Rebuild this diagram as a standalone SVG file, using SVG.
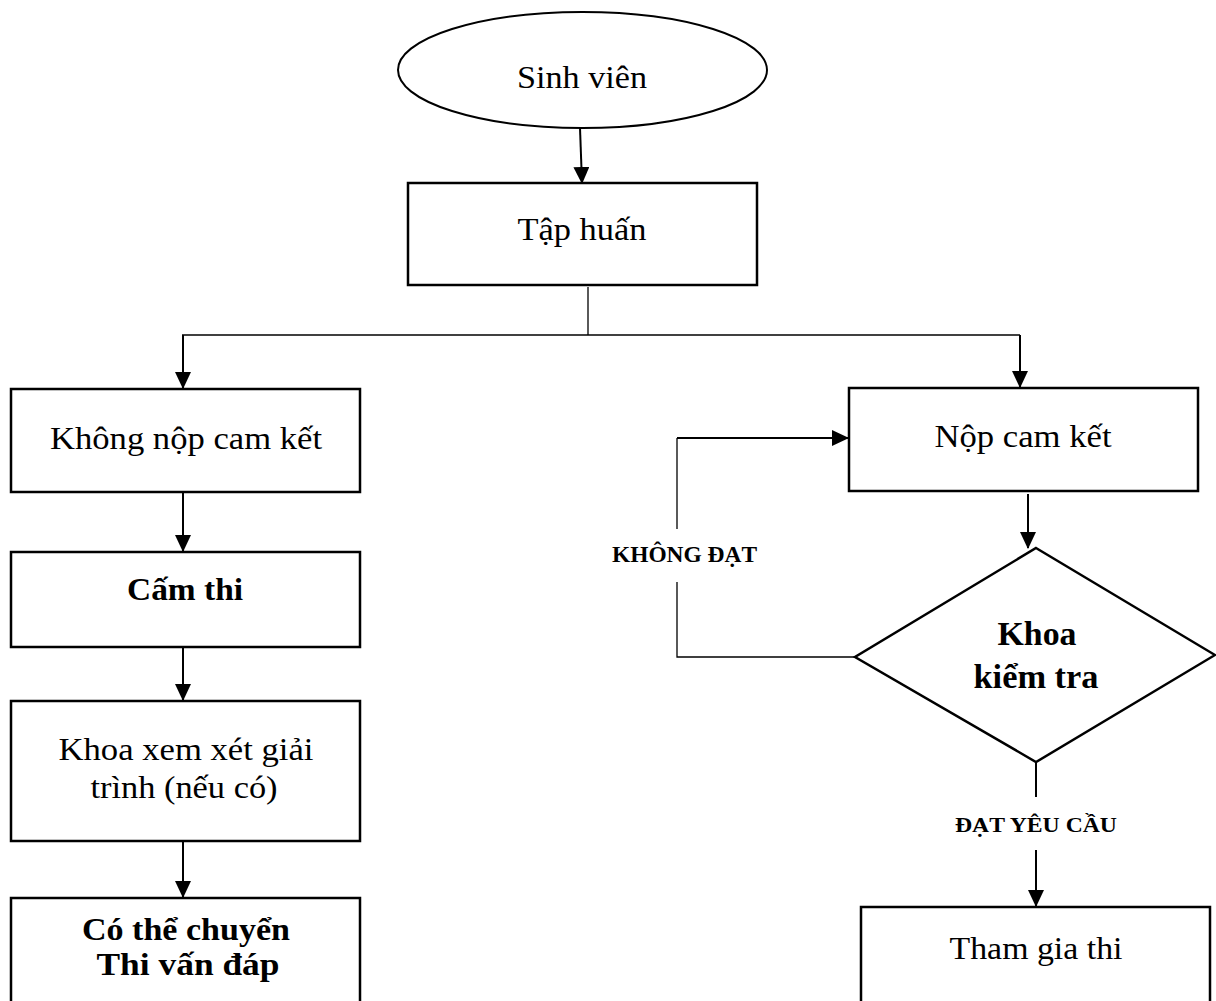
<svg xmlns="http://www.w3.org/2000/svg" width="1216" height="1001" viewBox="0 0 1216 1001">
<style>
.box{fill:#fff;stroke:#000;stroke-width:2.5}
.t{font-family:"Liberation Serif","Times New Roman",serif;font-size:32px;fill:#000;text-anchor:middle}
.b{font-weight:bold}
.arr{stroke:#000;stroke-width:2;fill:none}
.thin{stroke:#000;stroke-width:1.3;fill:none}
</style>
<defs>
<marker id="ah" markerUnits="userSpaceOnUse" markerWidth="17" markerHeight="17" refX="16" refY="8" orient="auto">
<path d="M0,0 L17,8 L0,16 z" fill="#000"/>
</marker>
</defs>
<rect width="1216" height="1001" fill="#fff"/>
<g id="connectors">
<line class="arr" x1="580" y1="128" x2="582" y2="183" marker-end="url(#ah)"/>
<line class="thin" x1="588" y1="287" x2="588" y2="335"/>
<line class="thin" x1="182" y1="335" x2="1020" y2="335"/>
<line class="arr" x1="183" y1="335" x2="183" y2="388" marker-end="url(#ah)"/>
<line class="arr" x1="1020" y1="335" x2="1020" y2="387" marker-end="url(#ah)"/>
<line class="arr" x1="183" y1="493" x2="183" y2="551" marker-end="url(#ah)"/>
<line class="arr" x1="183" y1="648" x2="183" y2="700" marker-end="url(#ah)"/>
<line class="arr" x1="183" y1="842" x2="183" y2="897" marker-end="url(#ah)"/>
<line class="arr" x1="1028" y1="494" x2="1028" y2="548" marker-end="url(#ah)"/>
<polyline class="thin" points="855,657 677,657 677,582"/>
<polyline class="thin" points="677,529 677,438"/>
<line class="arr" x1="677" y1="438" x2="848" y2="438" stroke-width="2.5" marker-end="url(#ah)"/>
<line class="arr" x1="1036" y1="762" x2="1036" y2="797"/>
<line class="arr" x1="1036" y1="850" x2="1036" y2="906" marker-end="url(#ah)"/>
<text class="t b" x="684.5" y="562" textLength="145" lengthAdjust="spacingAndGlyphs" style="font-size:23px">KHÔNG ĐẠT</text>
<text class="t b" x="1036" y="832" textLength="162" lengthAdjust="spacingAndGlyphs" style="font-size:22px">ĐẠT YÊU CẦU</text>
</g>
<g id="sinh-vien">
<ellipse cx="582.5" cy="70" rx="184.5" ry="58" fill="#fff" stroke="#000" stroke-width="2"/>
<text class="t" x="582" y="88" textLength="130" lengthAdjust="spacingAndGlyphs">Sinh viên</text>
</g>
<g id="tap-huan">
<rect class="box" x="408" y="183" width="349" height="102"/>
<text class="t" x="582" y="240" textLength="129" lengthAdjust="spacingAndGlyphs">Tập huấn</text>
</g>
<g id="khong-nop">
<rect class="box" x="11" y="389" width="349" height="103"/>
<text class="t" x="186" y="449" textLength="272" lengthAdjust="spacingAndGlyphs">Không nộp cam kết</text>
</g>
<g id="cam-thi">
<rect class="box" x="11" y="552" width="349" height="95"/>
<text class="t b" x="185" y="600" textLength="116" lengthAdjust="spacingAndGlyphs">Cấm thi</text>
</g>
<g id="khoa-xem-xet">
<rect class="box" x="11" y="701" width="349" height="140"/>
<text class="t" x="186" y="760" textLength="255" lengthAdjust="spacingAndGlyphs">Khoa xem xét giải</text>
<text class="t" x="184" y="798" textLength="187" lengthAdjust="spacingAndGlyphs">trình (nếu có)</text>
</g>
<g id="co-the-chuyen">
<rect class="box" x="11" y="898" width="349" height="120"/>
<text class="t b" x="186" y="940" textLength="208" lengthAdjust="spacingAndGlyphs">Có thể chuyển</text>
<text class="t b" x="188" y="975" textLength="183" lengthAdjust="spacingAndGlyphs">Thi vấn đáp</text>
</g>
<g id="nop-cam-ket">
<rect class="box" x="849" y="388" width="349" height="103"/>
<text class="t" x="1023" y="447" textLength="177" lengthAdjust="spacingAndGlyphs">Nộp cam kết</text>
</g>
<g id="khoa-kiem-tra">
<polygon points="1036,548 1215,655 1036,762 855,657" fill="#fff" stroke="#000" stroke-width="2.5" stroke-linejoin="miter"/>
<text class="t b" x="1037" y="645" textLength="79" lengthAdjust="spacingAndGlyphs" style="font-size:34px">Khoa</text>
<text class="t b" x="1036" y="688" textLength="125" lengthAdjust="spacingAndGlyphs" style="font-size:34px">kiểm tra</text>
</g>
<g id="tham-gia-thi">
<rect class="box" x="861" y="907" width="349" height="110"/>
<text class="t" x="1036" y="959" textLength="173" lengthAdjust="spacingAndGlyphs">Tham gia thi</text>
</g>
</svg>
